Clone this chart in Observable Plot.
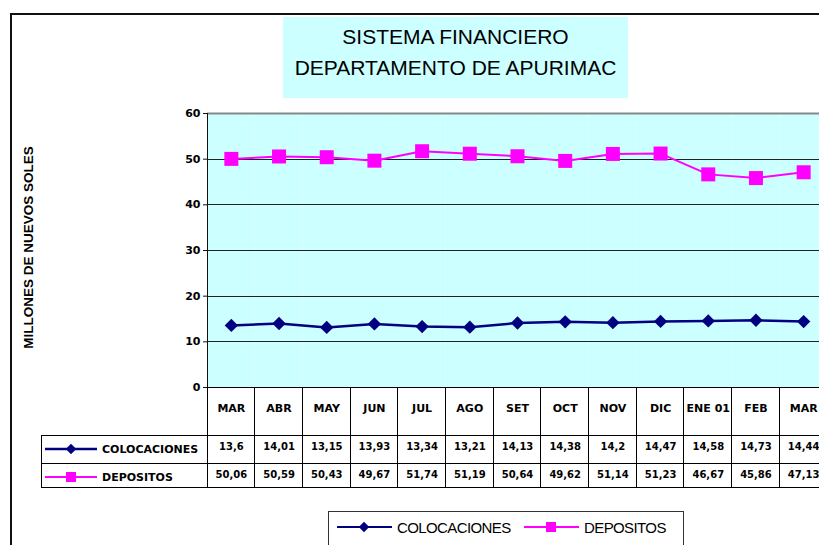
<!DOCTYPE html>
<html>
<head>
<meta charset="utf-8">
<script src="https://cdn.jsdelivr.net/npm/d3@7"></script>
<script src="https://cdn.jsdelivr.net/npm/@observablehq/plot@0.6"></script>
<style>
  html, body { margin: 0; padding: 0; background: white; }
  body { width: 819px; height: 545px; overflow: hidden; position: relative; }
  #chart { position: absolute; left: 0; top: 0; }
  #overlay { position: absolute; left: 0; top: 0; pointer-events: none; }
</style>
</head>
<body>
<div id="chart"></div>
<script>
// ---- Data ----
const months = ["MAR", "ABR", "MAY", "JUN", "JUL", "AGO", "SET", "OCT", "NOV", "DIC", "ENE 01", "FEB", "MAR"];
const colocaciones = [13.6, 14.01, 13.15, 13.93, 13.34, 13.21, 14.13, 14.38, 14.2, 14.47, 14.58, 14.73, 14.44];
const depositos = [50.06, 50.59, 50.43, 49.67, 51.74, 51.19, 50.64, 49.62, 51.14, 51.23, 46.67, 45.86, 47.13];
const yTicks = [0, 10, 20, 30, 40, 50, 60];
const seriesNames = ["COLOCACIONES", "DEPOSITOS"];
const titleLines = ["SISTEMA FINANCIERO", "DEPARTAMENTO DE APURIMAC"];
const yLabel = "MILLONES DE NUEVOS SOLES";

const NAVY = "#000080", MAGENTA = "#ff00ff", CYAN = "#ccffff";
const fmt = v => String(v).replace(".", ",");

const table = months.map((m, i) => ({i, month: m, col: colocaciones[i], dep: depositos[i]}));
const idx = months.map((m, i) => i);

const plot = Plot.plot({
  width: 819,
  height: 545,
  marginLeft: 207,
  marginRight: 0,
  marginTop: 113,
  marginBottom: 158,
  style: {fontFamily: "DejaVu Sans", background: "transparent"},
  x: {type: "band", domain: idx, range: [207, 827], padding: 0, round: false, axis: null},
  y: {domain: [0, 60], range: [387, 113]},
  marks: [
    // plot background
    Plot.barY(idx, {x: d => d, y1: 0, y2: 60, fill: CYAN}),
    // gridlines
    Plot.ruleY(yTicks.filter(d => d > 0 && d < 60), {stroke: "#222", strokeWidth: 1, shapeRendering: "crispEdges"}),
    Plot.ruleY([60], {stroke: "#888", strokeWidth: 2}),
    Plot.frame({anchor: "left", stroke: "#111", shapeRendering: "crispEdges"}),
    Plot.axisY({ticks: yTicks, tickSize: 4, tickPadding: 3, fontSize: 11, fontWeight: "bold", label: null, stroke: "#111", fill: "#000"}),
    Plot.text([yLabel], {frameAnchor: "left", textAnchor: "middle", dx: -179, dy: -3, rotate: -90, text: d => d,
      fontFamily: "Liberation Sans", fontWeight: "bold", fontSize: 13.5, letterSpacing: "0.7px", fill: "#000"}),
    // data table below the plot
    Plot.barY(idx, {x: d => d, y1: 0, y2: 0, insetBottom: -100, fill: "none", stroke: "#000", shapeRendering: "crispEdges"}),
    Plot.ruleY([0], {dy: 48, stroke: "#000", shapeRendering: "crispEdges"}),
    Plot.ruleY([0], {dy: 76, stroke: "#000", shapeRendering: "crispEdges"}),
    Plot.text(table, {x: "i", frameAnchor: "bottom", dy: 24, text: "month", fontSize: 11, fontWeight: "bold", fill: "#000"}),
    Plot.text(table, {x: "i", frameAnchor: "bottom", dy: 62, text: d => fmt(d.col), fontSize: 10, fontWeight: "bold", fill: "#000"}),
    Plot.text(table, {x: "i", frameAnchor: "bottom", dy: 90, text: d => fmt(d.dep), fontSize: 10, fontWeight: "bold", fill: "#000"}),
    // series
    Plot.line(table, {x: "i", y: "dep", stroke: MAGENTA, strokeWidth: 2}),
    Plot.line(table, {x: "i", y: "col", stroke: NAVY, strokeWidth: 2.5}),
    Plot.dot(table, {x: "i", y: "dep", symbol: "square", r: 7.9, fill: MAGENTA, stroke: "none"}),
    Plot.dot(table, {x: "i", y: "col", symbol: "diamond2", r: 6, fill: NAVY, stroke: "none"})
  ]
});
document.getElementById("chart").appendChild(plot);

// ---- Chart chrome (border, title box, table legend keys, legend box) ----
const ov = d3.select("body").append("svg").attr("id", "overlay")
  .attr("width", 819).attr("height", 545);

ov.append("path").attr("d", "M11,545V14H819").attr("fill", "none")
  .attr("stroke", "#111").attr("stroke-width", 2);

ov.append("rect").attr("x", 283).attr("y", 17).attr("width", 345).attr("height", 81).attr("fill", CYAN);
ov.selectAll("text.title").data(titleLines).join("text").attr("class", "title")
  .attr("x", 455.5).attr("y", (d, i) => 36 + i * 31)
  .attr("text-anchor", "middle").attr("dominant-baseline", "central")
  .style("font-family", "Liberation Sans").style("font-size", "21px").attr("fill", "#000")
  .text(d => d);

// table label column
ov.append("path").attr("d", "M41.5,435.5H207M41.5,463.5H207M41.5,487.5H207M41.5,435V488")
  .attr("fill", "none").attr("stroke", "#000");

const series = [
  {name: seriesNames[0], color: NAVY, sym: d3.symbolDiamond2, size: 70, w: 2.5},
  {name: seriesNames[1], color: MAGENTA, sym: d3.symbolSquare, size: 100, w: 2}
];
series.forEach((s, k) => {
  const y = 449 + k * 28;
  ov.append("line").attr("x1", 45).attr("x2", 97).attr("y1", y).attr("y2", y)
    .attr("stroke", s.color).attr("stroke-width", s.w);
  ov.append("path").attr("d", d3.symbol(s.sym, s.size)()).attr("transform", `translate(71,${y})`).attr("fill", s.color);
  ov.append("text").attr("x", 102).attr("y", y).attr("dominant-baseline", "central")
    .style("font-family", "DejaVu Sans").style("font-weight", "bold").style("font-size", "11px")
    .attr("fill", "#000").text(s.name);
});

// bottom legend box
ov.append("rect").attr("x", 328.5).attr("y", 511.5).attr("width", 355).attr("height", 60)
  .attr("fill", "white").attr("stroke", "#333");
const legX = [337, 524];
series.forEach((s, k) => {
  const x0 = legX[k], y = 527;
  ov.append("line").attr("x1", x0).attr("x2", x0 + 55).attr("y1", y).attr("y2", y)
    .attr("stroke", s.color).attr("stroke-width", 2);
  ov.append("path").attr("d", d3.symbol(s.sym, s.size)()).attr("transform", `translate(${x0 + 27},${y})`).attr("fill", s.color);
  ov.append("text").attr("x", x0 + 60).attr("y", y).attr("dominant-baseline", "central")
    .style("font-family", "Liberation Sans").style("font-size", "15px").style("letter-spacing", "-0.6px")
    .attr("fill", "#000").text(s.name);
});
</script>
</body>
</html>
